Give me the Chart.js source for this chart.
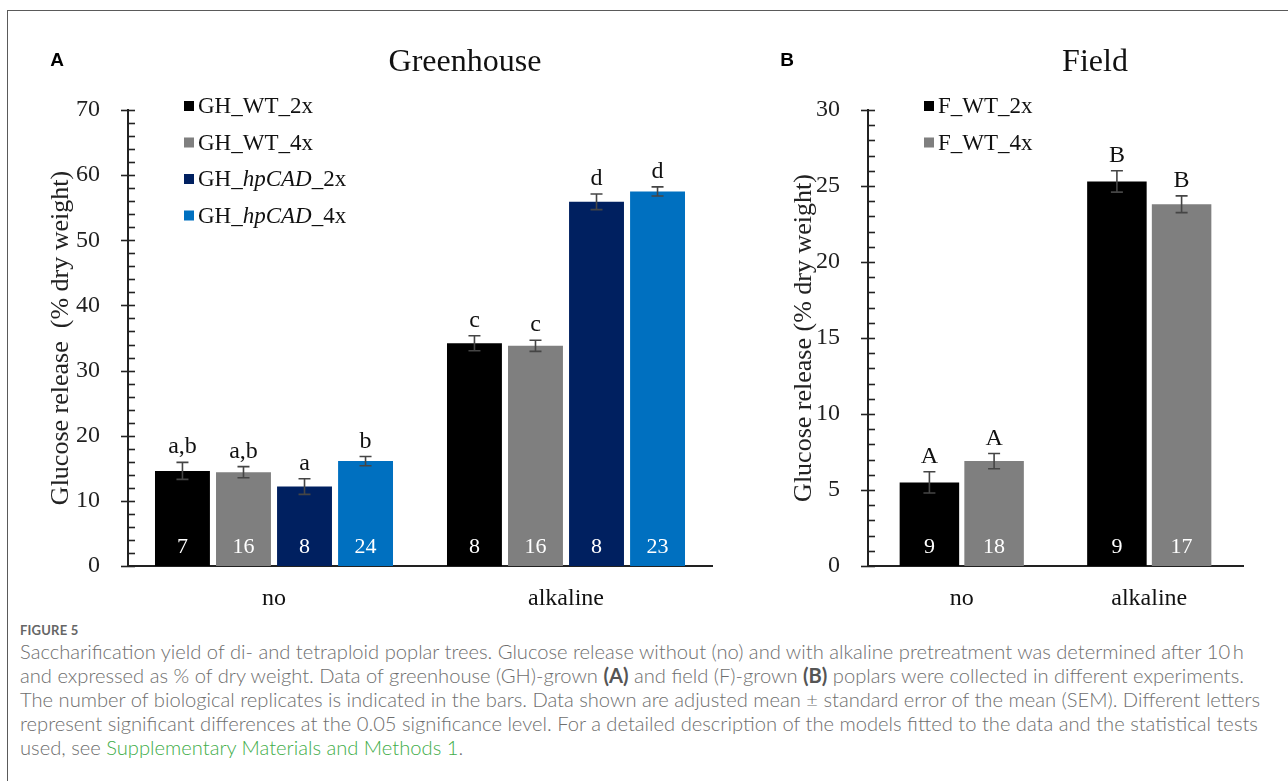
<!DOCTYPE html>
<html>
<head>
<meta charset="utf-8">
<script src="https://cdn.jsdelivr.net/npm/chart.js@4.4.1/dist/chart.umd.min.js"></script>
<style>
  html, body { margin: 0; padding: 0; background: #fff; }
  body { width: 1288px; height: 781px; position: relative; overflow: hidden; }
  #frame { position: absolute; left: 7px; top: 10px; width: 1400px; height: 900px;
           border-top: 1.5px solid #5a5a5a; border-left: 1.5px solid #5a5a5a; }
  #chartA { position: absolute; left: 0; top: 0; }
  #chartB { position: absolute; left: 740px; top: 0; }
  #caption { position: absolute; left: 20px; top: 621px; font-family: Lato, "Open Sans", sans-serif;
             color: #6e6e6e; white-space: nowrap; }
  #caption .fig { font-size: 13px; font-weight: 700; color: #666; line-height: 18px; letter-spacing: 0.2px; }
  #caption .txt span { display: block; font-size: 17px; line-height: 24px; font-weight: 300; }
  #caption b { font-weight: 700; color: #555; }
  #caption a { color: #41ad49; text-decoration: none; }
</style>
</head>
<body>
<div id="frame"></div>
<canvas id="chartA" width="740" height="620"></canvas>
<canvas id="chartB" width="548" height="620"></canvas>
<div id="caption">
  <div class="fig">FIGURE 5</div>
  <div class="txt">
    <span id="line1">Saccharification yield of di- and tetraploid poplar trees. Glucose release without (no) and with alkaline pretreatment was determined after 10&#8201;h</span>
    <span>and expressed as % of dry weight. Data of greenhouse (GH)-grown <b>(A)</b> and field (F)-grown <b>(B)</b> poplars were collected in different experiments.</span>
    <span>The number of biological replicates is indicated in the bars. Data shown are adjusted mean ± standard error of the mean (SEM). Different letters</span>
    <span>represent significant differences at the 0.05 significance level. For a detailed description of the models fitted to the data and the statistical tests</span>
    <span>used, see <a>Supplementary Materials and Methods 1</a>.</span>
  </div>
</div>
<script>
// data
const categories = ['no', 'alkaline'];

// greenhouse panel (A)
const ghSeries = ['GH_WT_2x', 'GH_WT_4x', 'GH_*hpCAD*_2x', 'GH_*hpCAD*_4x'];
const ghMean = [[14.6, 34.2], [14.4, 33.8], [12.2, 55.9], [16.1, 57.5]];
const ghSem = [[1.3, 1.15], [0.85, 0.85], [1.2, 1.2], [0.7, 0.7]];
const ghLetters = [['a,b', 'c'], ['a,b', 'c'], ['a', 'd'], ['b', 'd']];
const ghN = [[7, 8], [16, 16], [8, 8], [24, 23]];
const ghTicks = [0, 10, 20, 30, 40, 50, 60, 70];

// field panel (B)
const fSeries = ['F_WT_2x', 'F_WT_4x'];
const fMean = [[5.5, 25.3], [6.9, 23.8]];
const fSem = [[0.7, 0.7], [0.5, 0.55]];
const fLetters = [['A', 'B'], ['A', 'B']];
const fN = [[9, 9], [18, 17]];
const fTicks = [0, 5, 10, 15, 20, 25, 30];

const colors = ['#000000', '#7f7f7f', '#002060', '#0070c0'];
const SERIF = 'Liberation Serif';

Chart.defaults.font.family = SERIF;

// error bars, letters, n, ticks, legend, titles
const decor = {
  id: 'decor',
  afterDatasetsDraw(chart, args, o) {
    const ctx = chart.ctx, ys = chart.scales.y, area = chart.chartArea;
    ctx.save();

    // axis ticks: majors cross the axis, minors point inwards
    ctx.strokeStyle = '#222';
    ctx.lineWidth = 1.6;
    for (let v = ys.min; v <= ys.max + 1e-9; v += o.minorStep) {
      const py = Math.round(ys.getPixelForValue(v)) + 0.5;
      const major = Math.abs(v / o.majorStep - Math.round(v / o.majorStep)) < 1e-6;
      ctx.beginPath();
      ctx.moveTo(area.left - (major ? 7 : 0), py);
      ctx.lineTo(area.left + 7, py);
      ctx.stroke();
    }

    chart.data.datasets.forEach((ds, i) => {
      chart.getDatasetMeta(i).data.forEach((bar, j) => {
        const v = ds.data[j], e = o.sem[i][j];
        const yt = ys.getPixelForValue(v + e), yb = ys.getPixelForValue(v - e);
        ctx.strokeStyle = '#454545';
        ctx.lineWidth = 1.6;
        ctx.beginPath();
        ctx.moveTo(bar.x, yt); ctx.lineTo(bar.x, yb);
        ctx.moveTo(bar.x - 6, yt); ctx.lineTo(bar.x + 6, yt);
        ctx.moveTo(bar.x - 6, yb); ctx.lineTo(bar.x + 6, yb);
        ctx.stroke();

        ctx.textAlign = 'center';
        ctx.textBaseline = 'alphabetic';
        ctx.fillStyle = '#111';
        ctx.font = '24px "' + SERIF + '"';
        ctx.fillText(o.letters[i][j], bar.x, yt - 9);

        ctx.fillStyle = '#fff';
        ctx.font = '22px "' + SERIF + '"';
        ctx.textBaseline = 'middle';
        ctx.fillText(String(o.n[i][j]), bar.x, area.bottom - 19);
      });
    });

    // legend inside the plot, labels may carry *italic* parts
    ctx.textAlign = 'left';
    ctx.textBaseline = 'alphabetic';
    chart.data.datasets.forEach((ds, i) => {
      const ry = 106 + i * 36.5;
      ctx.fillStyle = ds.backgroundColor;
      ctx.fillRect(area.left + 56, ry - 5, 10, 10);
      let x = area.left + 70;
      ctx.fillStyle = '#111';
      o.legend[i].split('*').forEach((part, k) => {
        ctx.font = (k % 2 ? 'italic ' : '') + '23px "' + SERIF + '"';
        ctx.fillText(part, x, ry + 7);
        x += ctx.measureText(part).width;
      });
    });

    // panel title and letter
    ctx.textAlign = 'center';
    ctx.fillStyle = '#111';
    ctx.font = '32px "' + SERIF + '"';
    ctx.fillText(o.title, o.titleX, 71);
    ctx.font = 'bold 19px "Liberation Sans", Arial, sans-serif';
    ctx.fillStyle = '#000';
    ctx.fillText(o.panel, o.panelX, 66);
    ctx.restore();
  }
};

function makePanel(id, series, mean, sem, letters, n, ticks, opts) {
  return new Chart(document.getElementById(id), {
    type: 'bar',
    data: {
      labels: categories,
      datasets: series.map((name, i) => ({
        label: name.replace(/\*/g, ''),
        data: mean[i],
        backgroundColor: colors[i],
        borderWidth: 0,
        categoryPercentage: opts.catPct,
        barPercentage: opts.barPct
      }))
    },
    options: {
      responsive: false,
      animation: false,
      layout: { padding: { top: 110, right: opts.padRight, bottom: 0, left: 0 } },
      plugins: {
        legend: { display: false },
        tooltip: { enabled: false },
        decor: {
          sem: sem, letters: letters, n: n, legend: series,
          minorStep: opts.minorStep, majorStep: ticks[1] - ticks[0],
          title: opts.title, titleX: opts.titleX, panel: opts.panel, panelX: opts.panelX
        }
      },
      scales: {
        x: {
          grid: { display: false },
          border: { display: true, color: '#222', width: 2 },
          ticks: { font: { family: SERIF, size: 24 }, color: '#111', padding: 10 },
          afterFit: s => { s.height = 54; }
        },
        y: {
          min: ticks[0],
          max: ticks[ticks.length - 1],
          grid: { display: false },
          border: { display: true, color: '#222', width: 2 },
          ticks: { stepSize: ticks[1] - ticks[0], font: { family: SERIF, size: 24 }, color: '#222', padding: 20 },
          title: {
            display: true,
            text: opts.yTitle,
            font: { family: SERIF, size: 26 },
            color: '#222',
            padding: { top: opts.yTitlePad, bottom: 0 }
          },
          afterFit: s => { s.width = 128; }
        }
      }
    },
    plugins: [decor]
  });
}

makePanel('chartA', ghSeries, ghMean, ghSem, ghLetters, ghN, ghTicks, {
  catPct: 0.836, barPct: 0.9, padRight: 28, minorStep: 2,
  title: 'Greenhouse', titleX: 465, panel: 'A', panelX: 57,
  yTitle: 'Glucose release  (% dry weight)', yTitlePad: 46
});

makePanel('chartB', fSeries, fMean, fSem, fLetters, fN, fTicks, {
  catPct: 0.69, barPct: 0.92, padRight: 45, minorStep: 1,
  title: 'Field', titleX: 355, panel: 'B', panelX: 47,
  yTitle: 'Glucose release (% dry weight)', yTitlePad: 49
});

// fit caption so that the first line spans like the original
function fitCaption() {
  const l1 = document.getElementById('line1');
  const spans = document.querySelectorAll('#caption .txt span');
  const w = l1.getBoundingClientRect().width;
  const cur = parseFloat(getComputedStyle(l1).fontSize);
  const fs = cur * 1240 / w;
  spans.forEach(s => { s.style.fontSize = fs + 'px'; });
}
fitCaption();
if (document.fonts) document.fonts.ready.then(fitCaption);
</script>
</body>
</html>
